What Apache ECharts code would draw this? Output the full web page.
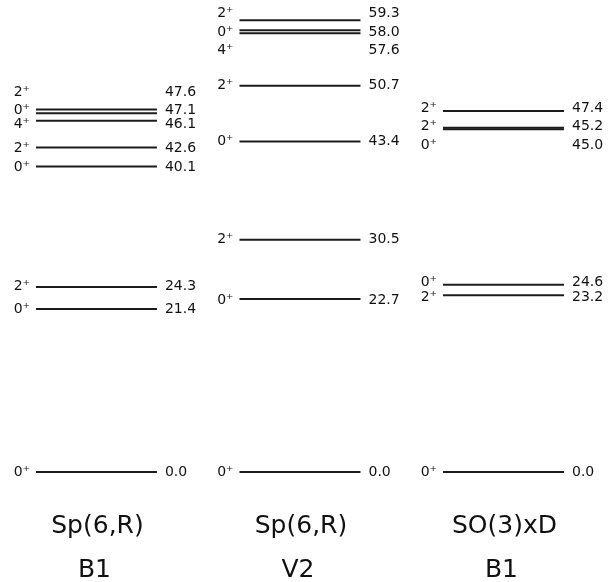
<!DOCTYPE html>
<html>
<head>
<meta charset="utf-8">
<script src="https://cdn.jsdelivr.net/npm/echarts@6/dist/echarts.min.js"></script>
<style>
html,body{margin:0;padding:0;background:#fff;}
#chart{width:614px;height:582px;}
</style>
</head>
<body>
<div id="chart"></div>
<script>
// ---- data ----
const columnTitles = ['Sp(6,R)', 'Sp(6,R)', 'SO(3)xD'];
const columnSubtitles = ['B1', 'V2', 'B1'];

const col1Energies = [0.0, 21.4, 24.3, 40.1, 42.6, 46.1, 47.1, 47.6];
const col1Spins    = ['0', '0', '2', '0', '2', '4', '0', '2'];

const col2Energies = [0.0, 22.7, 30.5, 43.4, 50.7, 57.6, 58.0, 59.3];
const col2Spins    = ['0', '0', '2', '0', '2', '4', '0', '2'];

const col3Energies = [0.0, 23.2, 24.6, 45.0, 45.2, 47.4];
const col3Spins    = ['0', '2', '0', '0', '2', '2'];

// ---- layout: vertical label shifts (px) so crowded labels don't overlap ----
const col1LabelShift = [0, 0, -1, 1, 1, 3, -3, -17];
const col2LabelShift = [0, 1, 0, 0, 0, 17, 2, -7];
const col3LabelShift = [0, 2, -2, 16, -1, -3];

const columns = [
  { e: col1Energies, s: col1Spins, d: col1LabelShift },
  { e: col2Energies, s: col2Spins, d: col2LabelShift },
  { e: col3Energies, s: col3Spins, d: col3LabelShift }
];

const levels = [];
columns.forEach((c, ci) => {
  c.e.forEach((en, i) => levels.push({ col: ci, e: en, spin: c.s[i], shift: c.d[i] }));
});

const FONT = 'DejaVu Sans, sans-serif';
const HALF = 60.5;

const chart = echarts.init(document.getElementById('chart'), null, { renderer: 'canvas' });
chart.setOption({
  animation: false,
  backgroundColor: '#ffffff',
  grid: { left: 0, right: 0, top: 15, bottom: 110 },
  xAxis: { type: 'value', min: -0.474, max: 2.543, show: false },
  yAxis: { type: 'value', min: 0, max: 60, show: false },
  series: [
    {
      type: 'custom',
      clip: false,
      data: levels.map(l => [l.col, l.e]),
      renderItem: function (params, api) {
        const lv = levels[params.dataIndex];
        const p = api.coord([api.value(0), api.value(1)]);
        const ty = p[1] + lv.shift;
        return {
          type: 'group',
          children: [
            {
              type: 'line',
              shape: { x1: p[0] - HALF, y1: p[1], x2: p[0] + HALF, y2: p[1] },
              style: { stroke: '#1c1c1c', lineWidth: 2 }
            },
            {
              type: 'text',
              style: {
                x: p[0] - HALF - 6, y: ty,
                text: lv.spin + '⁺',
                align: 'right', verticalAlign: 'middle',
                font: '14px ' + FONT, fill: '#111'
              }
            },
            {
              type: 'text',
              style: {
                x: p[0] + HALF + 8, y: ty,
                text: lv.e.toFixed(1),
                align: 'left', verticalAlign: 'middle',
                font: '14px ' + FONT, fill: '#111'
              }
            }
          ]
        };
      }
    },
    {
      type: 'custom',
      clip: false,
      data: columnTitles.map((t, i) => [i, 0]),
      renderItem: function (params, api) {
        const i = params.dataIndex;
        const p = api.coord([api.value(0), api.value(1)]);
        return {
          type: 'group',
          children: [
            {
              type: 'text',
              style: {
                x: p[0] + 1, y: p[1] + 54,
                text: columnTitles[i],
                align: 'center', verticalAlign: 'middle',
                font: '25px ' + FONT, fill: '#111'
              }
            },
            {
              type: 'text',
              style: {
                x: p[0] - 2, y: p[1] + 98,
                text: columnSubtitles[i],
                align: 'center', verticalAlign: 'middle',
                font: '25px ' + FONT, fill: '#111'
              }
            }
          ]
        };
      }
    }
  ]
});
</script>
</body>
</html>
